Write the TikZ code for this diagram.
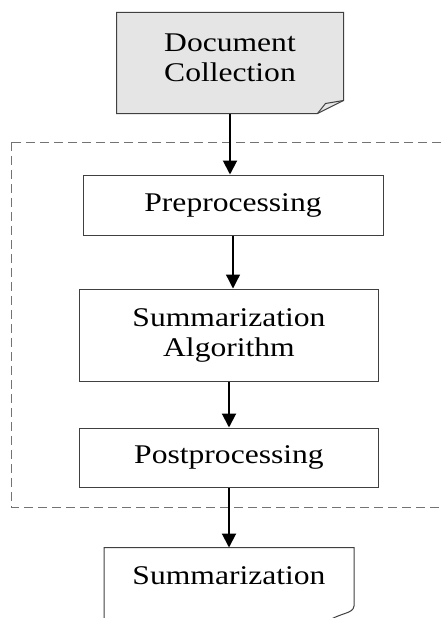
\documentclass[tikz,border=0pt]{standalone}
\usepackage{fontspec}
\newfontfamily\boxfont[FakeStretch=1.17]{Liberation Serif}
\usetikzlibrary{arrows.meta, positioning, backgrounds}
\tikzset{
  stepbox/.style={draw=black!75, line width=1pt, align=center, inner sep=0pt,
                  font=\boxfont\fontsize{27}{30}\selectfont},
  boxline/.style={draw=black!75, line width=1pt},
  flowarr/.style={-{Triangle[width=14pt,length=14pt]}, line width=2pt},
  frame/.style={draw=black!55, line width=1pt, dash pattern=on 9pt off 5pt},
}

\begin{document}
\begin{tikzpicture}[x=1pt, y=1pt]
\clip (0,0) rectangle (443,-618);
% dashed frame round the processing steps, open to the right
\draw[frame] (11,-142) rectangle (470,-507);
\node[stepbox, draw=none, minimum width=226pt, minimum height=100pt, text depth=10pt]
  (doc) at (230,-63) {Document\\Collection};
\node[stepbox, minimum width=300pt, minimum height=60pt, below=61pt of doc, xshift=3pt]
  (prep) {Preprocessing};
\node[stepbox, minimum width=299pt, minimum height=92pt, below=53pt of prep, xshift=-4pt]
  (alg) {Summarization\\Algorithm};
\node[stepbox, minimum width=299pt, minimum height=59pt, below=46pt of alg]
  (post) {Postprocessing};
\node[stepbox, draw=none, minimum width=249pt, text height=36pt, text depth=8pt,
      below=60pt of post] (summ) {Summarization};
% page outlines with turned corners
\begin{pgfonlayer}{background}
\filldraw[boxline, fill=gray!20] (doc.north west) -- (doc.north east)
  -- ([yshift=13pt]doc.south east) -- ([xshift=-26pt]doc.south east)
  -- (doc.south west) -- cycle;
\draw[boxline] ([xshift=-26pt]doc.south east) -- ([xshift=-18pt, yshift=10pt]doc.south east)
  -- ([yshift=13pt]doc.south east);
\end{pgfonlayer}
\draw[boxline] ([yshift=-90pt]summ.north west) -- (summ.north west) -- (summ.north east)
  -- (354,-606) .. controls (353,-614) and (342,-612) .. (326,-622);
% flow
\draw[flowarr] (doc.south) -- (doc.south |- prep.north);
\draw[flowarr, line width=1.3pt] (prep.south) -- (prep.south |- alg.north);
\draw[flowarr] (alg.south) -- (alg.south |- post.north);
\draw[flowarr] (post.south) -- (post.south |- summ.north);
\end{tikzpicture}
\end{document}
